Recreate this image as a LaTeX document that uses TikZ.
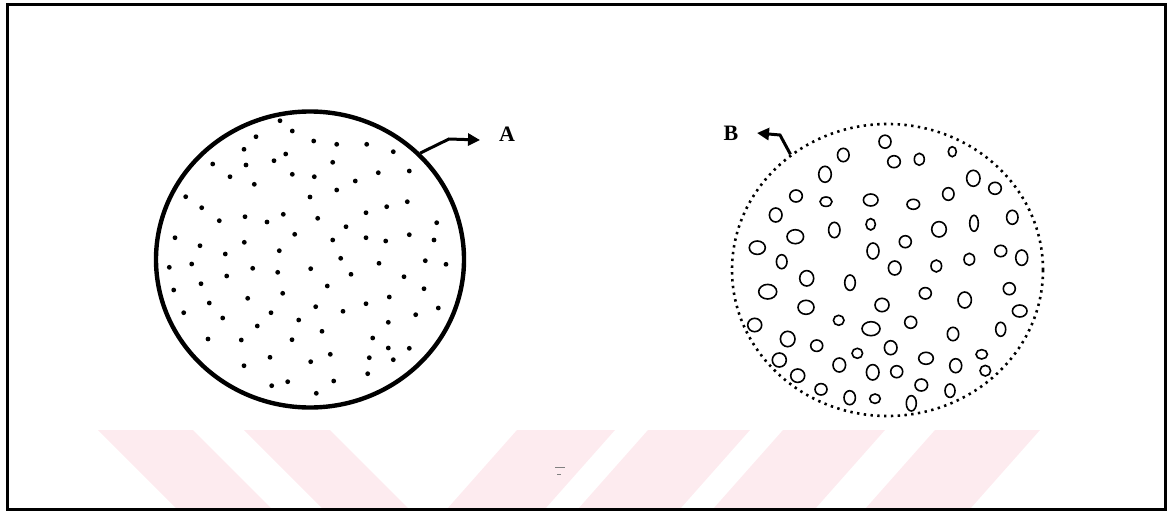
\documentclass[tikz,border=0pt]{standalone}
\usepackage{fontspec}
\setmainfont{Liberation Serif}
\usetikzlibrary{arrows.meta,shapes.geometric}
\definecolor{wmpink}{RGB}{253,235,239}
\tikzset{
  frameline/.style={line width=3pt},
  solidcell/.style={ellipse, draw, line width=4.4pt, inner sep=0pt},
  porouscell/.style={ellipse, draw, line width=2.6pt, dash pattern=on 2.4pt off 4.4pt, inner sep=0pt},
  grain/.style={fill=black},
  pore/.style={line width=1.6pt},
  pointer/.style={line width=3pt, -{Triangle[length=12pt,width=12pt]}},
  lbl/.style={font=\bfseries\fontsize{22}{22}\selectfont, inner sep=0pt},
  stripe/.style={fill=wmpink, draw=none},
}
\begin{document}
\begin{tikzpicture}[x=1pt,y=-1pt]
\useasboundingbox (0,0) rectangle (1169,514);

% pale stripes along the lower edge
\fill[stripe] (98,430) -- (193,430) -- (272,509) -- (177,509) -- cycle;
\fill[stripe] (244,430) -- (330,430) -- (409,509) -- (323,509) -- cycle;
\fill[stripe] (517,430) -- (615,430) -- (545,509) -- (447,509) -- cycle;
\fill[stripe] (648,430) -- (750,430) -- (680,509) -- (578,509) -- cycle;
\fill[stripe] (783,430) -- (885,430) -- (815,509) -- (713,509) -- cycle;
\fill[stripe] (935,430) -- (1040,430) -- (970,509) -- (865,509) -- cycle;
\draw[gray, line width=0.8pt] (555,467) -- (565,467) (557,474) -- (561,474);

% outer frame
\draw[frameline] (7,4) rectangle (1165,509);

% solid particle with a continuous wall
\node[solidcell, minimum width=308pt, minimum height=296pt] (cellA) at (310,259.5) {};
\foreach \x/\y in {
 280/120.7, 292.3/131, 256/136.7, 313.7/141, 336.7/144.3, 366.7/144.3, 244/149.3,
 285.7/154, 274/160.7, 393.3/151.7, 212.7/164, 246/165, 332.7/162.3, 292.3/174.3,
 314.3/176.7, 230/176.7, 254.3/184.3, 378.3/172.7, 409.3/171, 355.3/181, 336.7/190,
 310/197, 185.7/196.7, 201.7/207.7, 407.3/201.7, 386.7/206.7, 366/212.7, 283.3/214.3,
 245/216.7, 219.3/220.7, 267/222, 317.7/218.3, 346/226.7, 436.7/222.7, 294.7/234.3,
 175/237.7, 200/245.7, 244.3/242.3, 332.7/240, 366/237.7, 385.7/241, 409.3/234.7,
 434/240, 225.3/254, 279.3/250.7, 340.7/258.3, 169.3/267.3, 191.7/264, 252.7/268.3,
 277.7/272.3, 310.7/268.7, 379/263.3, 425.3/260.7, 446/264.3, 226.7/276, 351/274.3,
 404/276.7, 173.7/290, 201/283.7, 327.3/286, 282.7/293.3, 247.7/298.3, 424/288.7,
 209.3/303, 389.3/297, 183.7/312.7, 315.7/306.7, 343/311.3, 366/303.7, 415.7/314.7,
 438.3/308, 222.7/318, 271/312.7, 298.7/320, 388.3/322.3, 257.3/326, 322/331.3,
 208/339, 241.3/340, 292/339.7, 372.7/338, 388.3/348, 409.3/348.3, 270/357.3,
 330.3/354.3, 369.3/357.7, 393.3/359.7, 244/365.7, 310.7/361.7, 367.7/373.7,
 271.7/385.7, 287.7/381.7, 333.7/381, 316.3/393.3}
  \fill[grain] (\x,\y) circle (2.4pt);

\coordinate (bendA) at (449,139);
\coordinate (tipA) at (480,140);
\draw[pointer] (cellA.44.6) -- (bendA) -- (tipA);
\node[lbl] (labA) at (507,134) {A};

% porous particle with a broken wall
\node[porouscell, minimum width=311pt, minimum height=292pt] (cellB) at (887.5,270) {};
\foreach \x/\y/\a/\b in {
 843.3/155/5.8/6.7, 885/141.7/6/6.5, 894/161.7/6.3/6, 919.3/159.3/5/6, 952.3/151.7/4/5,
 825/174.3/6.3/8, 973.3/178.3/6.7/8, 995/188.3/6.3/6, 796/196/6.3/6, 826/201.7/6/4.7,
 870.7/200/7.3/6, 913.3/204.3/6.3/5, 948.3/194/5.7/6.3, 775.7/215/6.3/7, 834.3/230/5.7/7.7,
 870.7/224.3/4.7/5.7, 939/229.3/7.3/7.7, 974/223.3/4.3/8, 1012.3/217.3/5.7/7,
 795.3/236.7/8.3/7, 757.3/247.7/8/6.7, 873/251/6/8, 905.3/241.7/6/6, 781.7/261.7/5.3/7,
 894.7/268/6.3/7, 936.3/266/5.3/6, 969.3/259.3/5.3/6, 1000.7/251/6/5.7, 1021.7/257.7/6/7.7,
 806.7/278.3/7/7.7, 850/282.7/5.3/7.7, 767.7/291.7/9/7.3, 925.3/293.3/6/5.7, 964.7/300/6.7/8,
 1009.3/288.7/6/6, 806/307.3/8/7, 882/305/7/6.7, 754.7/325/7/6.7, 838.7/320.3/5.3/5,
 871/328.7/9/7, 910.7/322.3/6/6, 953/334/5.7/6.7, 1019.7/311/7.3/6, 1000.7/329.3/5/7,
 787.7/339/7.3/7.7, 816.7/345.7/6/5.7, 857.3/353.3/5.3/5, 890.7/347.7/6.3/7, 926/358.3/7.3/6,
 981.7/354.3/5.7/4.7, 779.3/360/7/7, 839.3/365/6.3/7, 872.7/372.3/6.3/7.7, 896.7/371.7/6/6,
 955.7/365.7/6/7, 985.3/370.7/5.3/5.3, 797.7/375.7/7/6.7, 821/389.3/6/5.7, 849.7/397.7/5.7/7,
 875/398.7/5.3/4.7, 921.3/385/6.3/6, 950/390.7/5/6.7, 911.3/403.3/5/7.7}
  \draw[pore] (\x,\y) ellipse [x radius=\a pt, y radius=\b pt];

\coordinate (bendB) at (780,135);
\coordinate (tipB) at (757,133);
\draw[pointer] (cellB.130.5) -- (bendB) -- (tipB);
\node[lbl] (labB) at (731,133) {B};
\end{tikzpicture}
\end{document}
